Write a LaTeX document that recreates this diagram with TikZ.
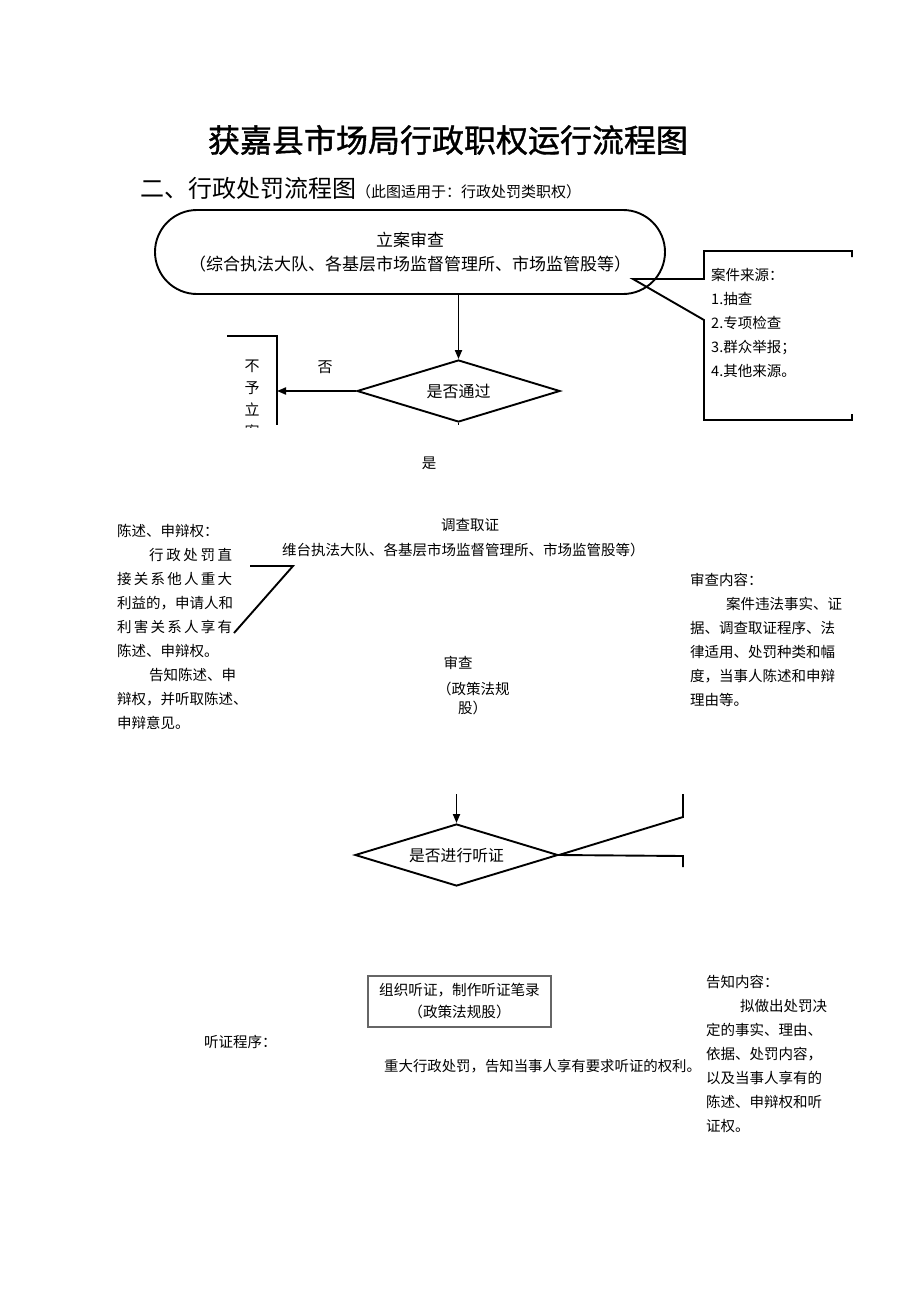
\documentclass[tikz,border=0pt]{standalone}
\usepackage{fontspec}
\setmainfont{Noto Sans CJK SC}
\newfontfamily\titlefont[FakeBold=1.2]{Noto Sans CJK SC}
\usetikzlibrary{shapes.geometric,arrows.meta}
\newcommand\setfs[1]{\fontsize{#1}{#1}\selectfont}
\newcommand\setfsl[2]{\fontsize{#1}{#2}\selectfont}
\begin{document}
\begin{tikzpicture}[x=1pt,y=-1pt,
  ln/.style={line width=1.9pt},
  arr/.style={line width=1.9pt,-{Triangle[length=9pt,width=7pt]}},
  txt/.style={inner sep=0pt},
  body/.style={inner sep=0pt,font=\setfsl{14.5}{24},align=left,anchor=north west},
  dia/.style={draw,line width=1.9pt,diamond,minimum width=203pt,minimum height=62pt,inner sep=0pt,aspect=3.27}]
\fill[white] (0,0) rectangle (920,1301);
\useasboundingbox (0,0) rectangle (920,1301);

% title
\node[txt,font=\titlefont\setfs{32}] (title) at (448,140) {获嘉县市场局行政职权运行流程图};
\node[txt,anchor=west] (head) at (140,188) {{\setfs{24}二、行政处罚流程图}{\setfs{15}（此图适用于：行政处罚类职权）}};

% case review
\node[draw,ln,rounded corners=42pt,minimum width=510pt,minimum height=84pt,inner sep=0pt,align=center,font=\setfsl{17}{24}] (case) at (410,252) {立案审查\\（综合执法大队、各基层市场监督管理所、市场监管股等）};

% source callout
\coordinate (srcTip) at (633,279);
\draw[ln] (852,257) -- (852,251) -- (704,251) -- (704,279) -- (srcTip) -- (704,320) -- (704,420) -- (852,420) -- (852,414);
\node[body,font=\setfsl{14.5}{24}] (src) at (711,268.5) {案件来源：\\1.抽查\\2.专项检查\\3.群众举报；\\4.其他来源。};

% decision 1
\node[dia,font=\setfs{16}] (pass) at (458.5,391) {是否通过};
\draw[arr] (case.south -| pass.north) -- (pass.north);
\coordinate (pstub) at (458.5,425);
\draw[ln] (pass.south) -- (pstub);

% reject bracket
\coordinate (rjL) at (227,336);
\coordinate (rjT) at (277,336);
\coordinate (rjB) at (277,425);
\draw[ln] (rjL) -- (rjT) -- (rjB);
\draw[arr] (pass.west) -- (pass.west -| rjT);
\node[txt,font=\setfs{15}] (no) at (325,367) {否};
\begin{scope}
\clip (200,340) rectangle (290,427);
\node[txt,font=\setfsl{15}{22},align=center,anchor=north] (rj) at (252,359.5) {不\\予\\立\\案};
\end{scope}

\node[txt,font=\setfs{14.5}] (yes) at (429,463) {是};

% investigation
\node[txt,font=\setfs{14.5}] (inv) at (470,525) {调查取证};
\node[txt,font=\setfs{14.5},anchor=west] (inv2) at (282,550) {维台执法大队、各基层市场监督管理所、市场监管股等）};

% left text block
\node[body] (stat) at (117,524) {陈述、申辩权：\\
\hspace*{32pt}\makebox[83pt][s]{行\hfill 政\hfill 处\hfill 罚\hfill 直}\\
\makebox[115pt][s]{接\hfill 关\hfill 系\hfill 他\hfill 人\hfill 重\hfill 大}\\
利益的，申请人和\\
\makebox[115pt][s]{利\hfill 害\hfill 关\hfill 系\hfill 人\hfill 享\hfill 有}\\
陈述、申辩权。\\
\hspace*{32pt}告知陈述、申\\
辩权，并听取陈述、\\
申辩意见。};
\coordinate (lA) at (250,566);
\coordinate (lB) at (293,566);
\coordinate (lC) at (234,633);
\draw[ln] (lA) -- (lB) -- (lC);

% review
\node[txt,font=\setfs{14.5}] (rev) at (458,663) {审查};
\node[txt,font=\setfs{14.5},anchor=west] (rev2) at (437,689) {（政策法规};
\node[txt,font=\setfs{14.5},anchor=west] (rev3) at (458,708) {股）};

\node[body] (revc) at (690,573) {审查内容：\\
\hspace*{36pt}案件违法事实、证\\
据、调查取证程序、法\\
律适用、处罚种类和幅\\
度，当事人陈述和申辩\\
理由等。};

% decision 2
\node[dia,font=\setfs{15.8}] (hear) at (456.5,855) {是否进行听证};
\coordinate (a2) at (456.5,794);
\draw[arr] (a2) -- (hear.north);
\coordinate (bT) at (683,794);
\coordinate (bM) at (683,817);
\coordinate (bN) at (683,856);
\coordinate (bB) at (683,867);
\draw[ln] (bT) -- (bM) -- (hear.east) -- (bN) -- (bB);

% hearing box
\node[draw=black!60,line width=1.1pt,minimum width=183pt,minimum height=51pt,inner sep=0pt,align=center,font=\setfsl{14.6}{22}] (org) at (459.5,1001.5) {组织听证，制作听证笔录\\（政策法规股）};

\node[txt,font=\setfs{14.5},anchor=west] (proc) at (204,1042) {听证程序：};
\node[txt,font=\setfs{14.4},anchor=west] (major) at (384,1066) {重大行政处罚，告知当事人享有要求听证的权利。};

\node[body] (notice) at (706,975) {告知内容：\\
\hspace*{34pt}拟做出处罚决\\
定的事实、理由、\\
依据、处罚内容，\\
以及当事人享有的\\
陈述、申辩权和听\\
证权。};
\end{tikzpicture}
\end{document}
